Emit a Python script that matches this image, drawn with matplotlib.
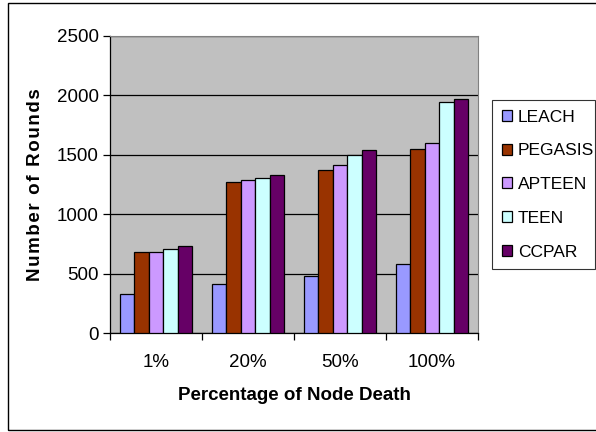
import numpy as np
import matplotlib
matplotlib.use("Agg")
import matplotlib.pyplot as plt
from matplotlib.patches import Rectangle

plt.rcParams['font.family'] = ['Liberation Sans', 'DejaVu Sans']

categories = ["1%", "20%", "50%", "100%"]
protocols = ["LEACH", "PEGASIS", "APTEEN", "TEEN", "CCPAR"]
leach = [330, 410, 478, 579]
pegasis = [683, 1267, 1368, 1551]
apteen = [680, 1292, 1410, 1601]
teen = [708, 1303, 1497, 1941]
ccpar = [733, 1331, 1537, 1966]
colors = ["#9999FF", "#993300", "#CC99FF", "#CCFFFF", "#660066"]

series = [leach, pegasis, apteen, teen, ccpar]

fig = plt.figure(figsize=(5.96, 4.32), dpi=100)
ax = fig.add_axes([110/596, 99/432, 368/596, 297/432])
ax.set_facecolor("#C0C0C0")

# outer chart frame
fig.patches.append(Rectangle((8/596, 2/432), 1.0, 427/432, transform=fig.transFigure,
                             fill=False, edgecolor="black", linewidth=1.0))

x = np.arange(len(categories)) + 0.5
w = 0.156
for j, vals in enumerate(series):
    ax.bar(x + (j - 2) * w, vals, width=w, color=colors[j], edgecolor="black",
           linewidth=0.9, label=protocols[j], zorder=3)

ax.set_xlim(0, 4)
ax.set_ylim(0, 2500)
ax.set_yticks(range(0, 2501, 500))
ax.yaxis.grid(True, color="black", linewidth=0.9, zorder=1)
ax.set_axisbelow(True)

ax.set_xticks([0, 1, 2, 3, 4])
ax.set_xticklabels([])
ax.set_xticks(x, minor=True)
ax.set_xticklabels(categories, minor=True)
ax.tick_params(axis="x", which="minor", length=0, pad=15, labelsize=13.5)
ax.tick_params(axis="x", which="major", length=5, width=0.9, direction="out")
ax.tick_params(axis="y", length=5, width=0.9, direction="out", labelsize=13.5, pad=3)

for s in ["top", "right"]:
    ax.spines[s].set_color("#808080")
    ax.spines[s].set_linewidth(0.8)
for s in ["left", "bottom"]:
    ax.spines[s].set_color("black")
    ax.spines[s].set_linewidth(0.9)

ax.set_xlabel("Percentage of Node Death", fontsize=13.5, fontweight="bold", labelpad=12)
# excel spreads the rotated title a bit wider
ylab = "\u200a".join("Number of Rounds")
ax.set_ylabel(ylab, fontsize=13.5, fontweight="bold", labelpad=9)

leg = ax.legend(loc="upper left", bbox_to_anchor=(492/596, 162/432, 103/596, 170/432),
                bbox_transform=fig.transFigure, mode="expand", fontsize=12.5,
                frameon=True, fancybox=False, handlelength=0.6, handleheight=0.6,
                handletextpad=0.35, labelspacing=1.08, borderaxespad=0, borderpad=0.55)
leg.get_frame().set_edgecolor("black")
leg.get_frame().set_linewidth(0.8)

fig.savefig("out.png", dpi=100)
